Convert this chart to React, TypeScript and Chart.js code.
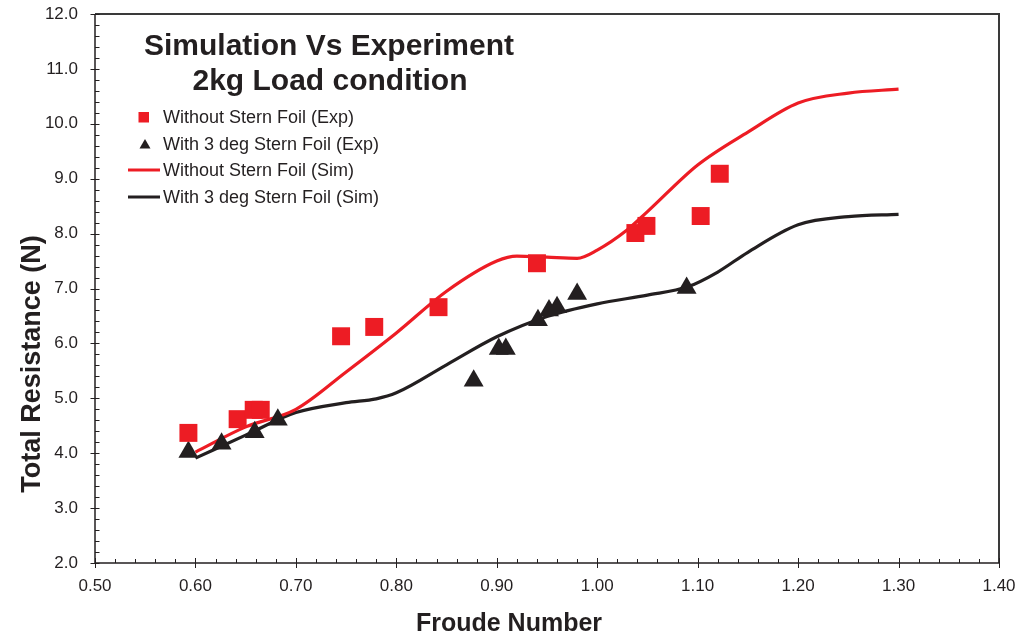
import React, { useEffect, useRef } from "react";
import { Chart, registerables } from "chart.js";

Chart.register(...registerables);

// ---- Data ----
const expNoFoilX = [0.593, 0.642, 0.658, 0.665, 0.745, 0.778, 0.842, 0.940, 1.038, 1.049, 1.103, 1.122];
const expNoFoilY = [4.37, 4.62, 4.79, 4.79, 6.13, 6.30, 6.66, 7.46, 8.01, 8.14, 8.32, 9.09];

const expFoilX = [0.593, 0.626, 0.659, 0.682, 0.877, 0.902, 0.909, 0.941, 0.952, 0.960, 0.980, 1.089];
const expFoilY = [4.02, 4.17, 4.38, 4.61, 5.32, 5.90, 5.90, 6.42, 6.60, 6.66, 6.90, 7.01];

const simNoFoilX = [0.60, 0.65, 0.70, 0.75, 0.80, 0.85, 0.90, 0.92, 0.95, 0.98, 1.00, 1.03, 1.05, 1.10, 1.15, 1.20, 1.25, 1.30];
const simNoFoilY = [4.02, 4.48, 4.80, 5.48, 6.19, 6.95, 7.50, 7.59, 7.57, 7.55, 7.70, 8.07, 8.40, 9.25, 9.85, 10.38, 10.56, 10.63];

const simFoilX = [0.60, 0.65, 0.70, 0.75, 0.78, 0.80, 0.85, 0.90, 0.95, 1.00, 1.05, 1.09, 1.12, 1.15, 1.20, 1.25, 1.30];
const simFoilY = [3.91, 4.33, 4.74, 4.92, 4.99, 5.10, 5.61, 6.12, 6.49, 6.72, 6.88, 7.03, 7.30, 7.66, 8.16, 8.31, 8.35];

const titleLines = ["Simulation Vs Experiment", "2kg Load condition"];
const seriesNames = [
  "Without Stern Foil (Exp)",
  "With 3 deg Stern Foil (Exp)",
  "Without Stern Foil (Sim)",
  "With 3 deg Stern Foil (Sim)",
];
const xAxisTitle = "Froude Number";
const yAxisTitle = "Total Resistance (N)";
const xMin = 0.5, xMax = 1.4, xStep = 0.1, xMinor = 0.02;
const yMin = 2, yMax = 12, yStep = 1, yMinor = 0.2;

const RED = "#ED1C24";
const BLACK = "#231F20";
const FONT = "'Liberation Sans', Arial, Helvetica, sans-serif";

const zip = (xs: number[], ys: number[]) => xs.map((x, i) => ({ x, y: ys[i] }));

export default function App() {
  const ref = useRef<HTMLCanvasElement>(null);

  useEffect(() => {
    if (!ref.current) return;

    const decor = {
      id: "decor",
      afterDraw(chart: any) {
        const { ctx, chartArea: a, scales } = chart;
        const xs = scales.x, ys = scales.y;
        ctx.save();

        // frame
        ctx.strokeStyle = "#3a3a3a";
        ctx.lineWidth = 2;
        ctx.beginPath();
        ctx.moveTo(a.left, a.top);
        ctx.lineTo(a.right, a.top);
        ctx.lineTo(a.right, a.bottom);
        ctx.stroke();
        ctx.strokeStyle = BLACK;
        ctx.lineWidth = 1.5;
        ctx.beginPath();
        ctx.moveTo(a.left, a.top);
        ctx.lineTo(a.left, a.bottom);
        ctx.lineTo(a.right, a.bottom);
        ctx.stroke();

        // ticks
        ctx.lineWidth = 1;
        ctx.beginPath();
        for (let k = 0; k <= Math.round((yMax - yMin) / yMinor); k++) {
          const v = yMin + k * yMinor;
          const py = Math.round(ys.getPixelForValue(v)) + 0.5;
          const major = k % Math.round(yStep / yMinor) === 0;
          ctx.moveTo(major ? a.left - 4.5 : a.left, py);
          ctx.lineTo(a.left + 4.5, py);
        }
        for (let k = 0; k <= Math.round((xMax - xMin) / xMinor); k++) {
          const v = xMin + k * xMinor;
          const px = Math.round(xs.getPixelForValue(v)) + 0.5;
          const major = k % Math.round(xStep / xMinor) === 0;
          ctx.moveTo(px, major ? a.bottom + 5 : a.bottom);
          ctx.lineTo(px, a.bottom - (major ? 5 : 4));
        }
        ctx.stroke();

        // title
        ctx.fillStyle = BLACK;
        ctx.textAlign = "center";
        ctx.textBaseline = "alphabetic";
        ctx.font = `bold 30px ${FONT}`;
        ctx.fillText(titleLines[0], 329, 55);
        ctx.fillText(titleLines[1], 330, 90);

        // legend
        ctx.font = `18px ${FONT}`;
        ctx.textAlign = "left";
        const tx = 163;
        const rows = [117, 144, 170, 197];
        ctx.fillStyle = RED;
        ctx.fillRect(138.5, 112, 10.5, 10.5);
        ctx.fillStyle = BLACK;
        ctx.beginPath();
        ctx.moveTo(145, 139);
        ctx.lineTo(150.5, 148.5);
        ctx.lineTo(139.5, 148.5);
        ctx.closePath();
        ctx.fill();
        ctx.lineWidth = 3;
        ctx.strokeStyle = RED;
        ctx.beginPath();
        ctx.moveTo(128, rows[2]);
        ctx.lineTo(160, rows[2]);
        ctx.stroke();
        ctx.strokeStyle = BLACK;
        ctx.beginPath();
        ctx.moveTo(128, rows[3]);
        ctx.lineTo(160, rows[3]);
        ctx.stroke();
        ctx.fillStyle = BLACK;
        ctx.textBaseline = "middle";
        seriesNames.forEach((n, i) => ctx.fillText(n, tx, rows[i] + 1));

        // axis titles
        ctx.font = `bold 25px ${FONT}`;
        ctx.textAlign = "center";
        ctx.textBaseline = "alphabetic";
        ctx.fillText(xAxisTitle, 509, 631);
        ctx.save();
        ctx.translate(40, 364);
        ctx.rotate(-Math.PI / 2);
        ctx.font = `bold 27px ${FONT}`;
        ctx.fillText(yAxisTitle, 0, 0);
        ctx.restore();

        ctx.restore();
      },
    };

    const chart = new Chart(ref.current, {
      type: "scatter",
      data: {
        datasets: [
          {
            label: seriesNames[0],
            data: zip(expNoFoilX, expNoFoilY),
            pointStyle: "rect",
            pointRadius: 12.7,
            backgroundColor: RED,
            borderWidth: 0,
            showLine: false,
          },
          {
            label: seriesNames[1],
            data: zip(expFoilX, expFoilY),
            pointStyle: "triangle",
            pointRadius: 11.5,
            backgroundColor: BLACK,
            borderWidth: 0,
            showLine: false,
          },
          {
            label: seriesNames[2],
            data: zip(simNoFoilX, simNoFoilY),
            showLine: true,
            borderColor: RED,
            borderWidth: 3.2,
            pointRadius: 0,
            cubicInterpolationMode: "monotone",
          },
          {
            label: seriesNames[3],
            data: zip(simFoilX, simFoilY),
            showLine: true,
            borderColor: BLACK,
            borderWidth: 3.2,
            pointRadius: 0,
            cubicInterpolationMode: "monotone",
          },
        ],
      },
      options: {
        animation: false,
        responsive: true,
        maintainAspectRatio: false,
        events: [],
        layout: { padding: { top: 14, right: 34, left: 0, bottom: 0 } },
        plugins: { legend: { display: false }, tooltip: { enabled: false }, title: { display: false } },
        scales: {
          x: {
            type: "linear",
            min: xMin,
            max: xMax,
            grid: { display: false, drawTicks: false, tickLength: 0 },
            border: { display: false },
            ticks: {
              stepSize: xStep,
              padding: 13,
              color: BLACK,
              font: { family: FONT, size: 17 },
              callback: (v: any) => Number(v).toFixed(2),
            },
            afterFit: (s: any) => { s.height = 73; s.paddingLeft = 0; s.paddingRight = 0; },
          },
          y: {
            type: "linear",
            min: yMin,
            max: yMax,
            grid: { display: false, drawTicks: false, tickLength: 0 },
            border: { display: false },
            ticks: {
              stepSize: yStep,
              padding: 17,
              color: BLACK,
              font: { family: FONT, size: 17 },
              callback: (v: any) => Number(v).toFixed(1),
            },
            afterFit: (s: any) => { s.width = 95; s.paddingTop = 0; s.paddingBottom = 0; },
          },
        },
      },
      plugins: [decor],
    } as any);

    return () => chart.destroy();
  }, []);

  return (
    <div style={{ position: "fixed", left: 0, top: 0, width: 1033, height: 636, background: "#fff" }}>
      <canvas ref={ref} />
    </div>
  );
}
